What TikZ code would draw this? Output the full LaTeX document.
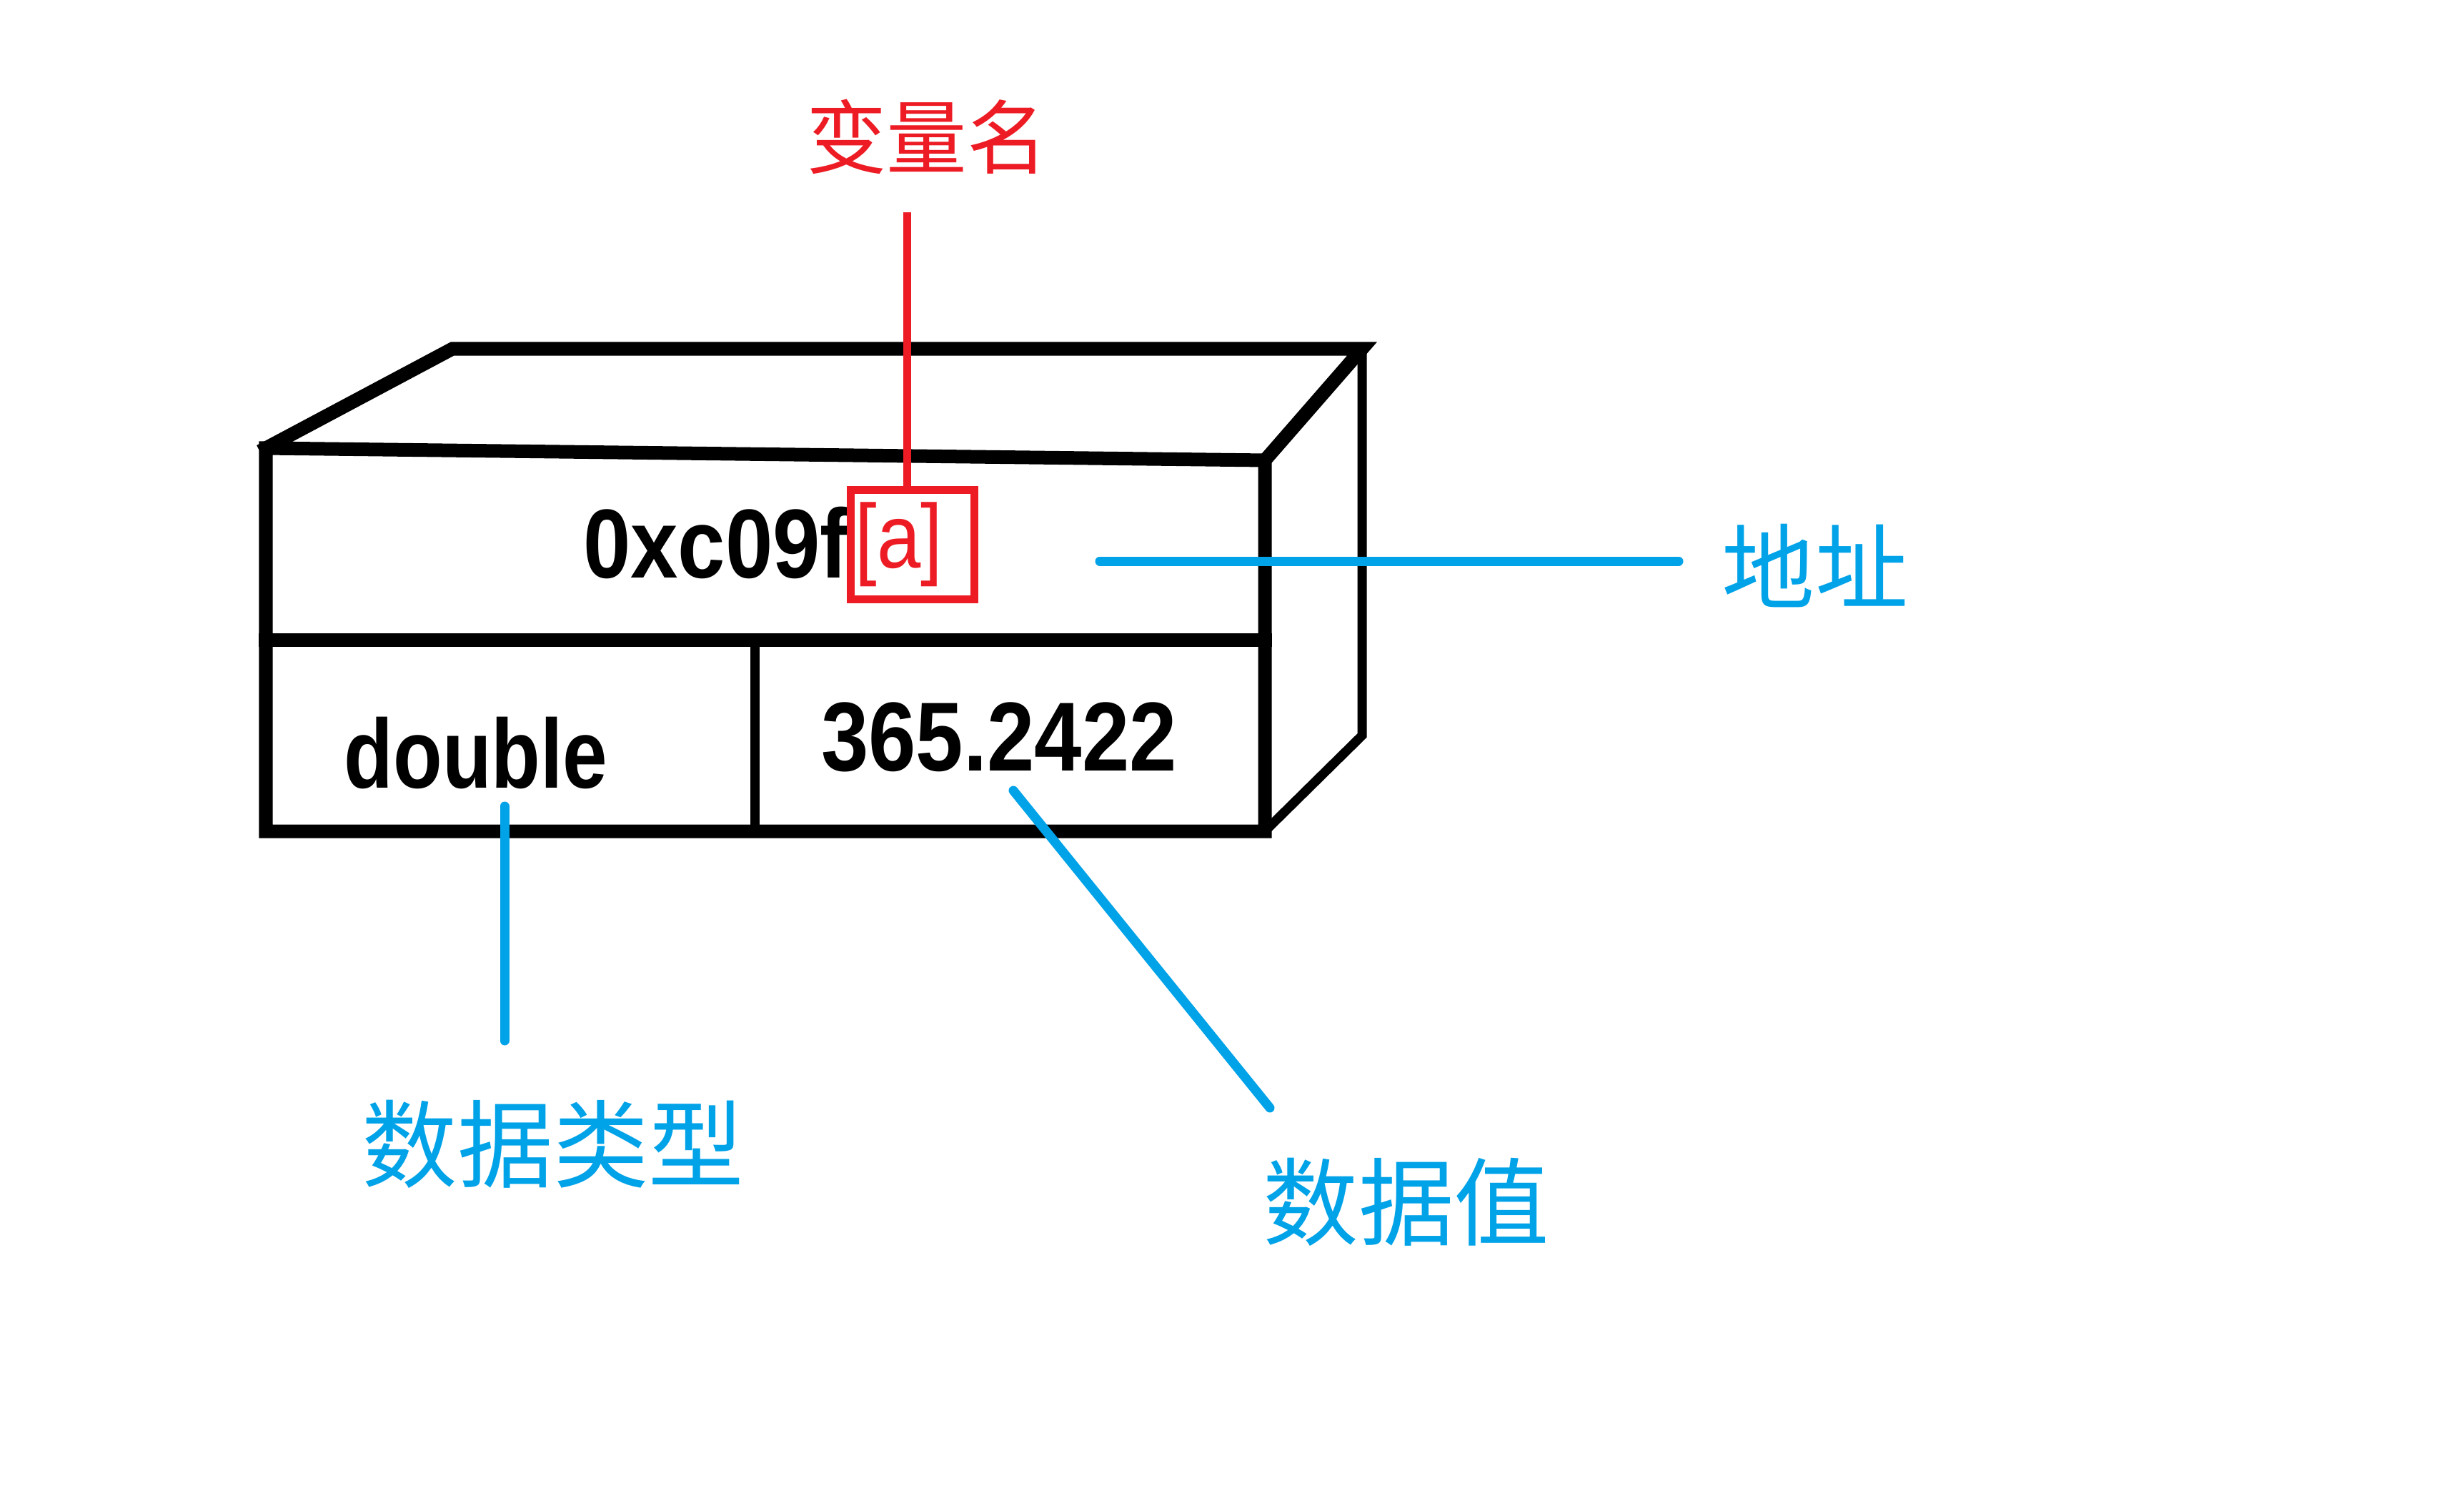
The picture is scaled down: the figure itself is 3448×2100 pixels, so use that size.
\documentclass[tikz,border=0pt]{standalone}
\usepackage{fontspec}
\newfontfamily\cjk{Noto Sans CJK SC}
\newfontfamily\numfont[FakeStretch=0.87]{Liberation Sans}
\newfontfamily\typefont[FakeStretch=0.82]{Liberation Sans}
\definecolor{pred}{HTML}{ED1C24}
\definecolor{pblue}{HTML}{00A2E8}
\tikzset{
  boxline/.style={line width=0.19cm, line join=miter, line cap=rect},
  thinbox/.style={line width=0.13cm, line cap=rect},
  redline/.style={draw=pred, line width=0.11cm},
  blueline/.style={draw=pblue, line width=0.13cm, line cap=round},
  celltext/.style={font=\numfont\bfseries\fontsize{39}{39}\selectfont, inner sep=0pt},
  redlabel/.style={text=pred, font=\cjk\fontsize{32}{32}\selectfont, inner sep=0pt},
  bluelabel/.style={text=pblue, font=\cjk\fontsize{38}{38}\selectfont, inner sep=0pt}
}
\begin{document}
\begin{tikzpicture}[x=0.01cm,y=-0.01cm]
\useasboundingbox[fill=white] (0,0) rectangle (3448,2100);
% box corners
\coordinate (ftl) at (372,627);
\coordinate (ftr) at (1770,644);
\coordinate (fbl) at (372,1163);
\coordinate (fbr) at (1770,1163);
\coordinate (btl) at (633,488);
\coordinate (btr) at (1906,488);
\coordinate (bbr) at (1906,1029);
\coordinate (ml) at (372,895);
\coordinate (mr) at (1770,895);
\coordinate (dt) at (1056,895);
\coordinate (db) at (1056,1163);
% box
\draw[boxline] (ftl) -- (ftr) -- (fbr) -- (fbl) -- cycle;
\draw[boxline] (ftl) -- (btl) -- (btr) -- (ftr);
\draw[thinbox] (btr) -- (bbr) -- (fbr);
\draw[boxline] (ml) -- (mr);
\draw[thinbox] (dt) -- (db);
% cell texts
\node[celltext, anchor=center] (addr) at (1002,759) {0xc09f};
\node[celltext, font=\typefont\bfseries\fontsize{39}{39}\selectfont, anchor=center] (type) at (666,1053) {double};
\node[celltext, anchor=center] (val) at (1398,1031) {365.2422};
% red box with variable name
\node[draw=pred, line width=0.11cm, minimum width=1.72cm, minimum height=1.52cm, inner sep=0pt] (rbox) at (1277,762) {};
\node[text=pred, font=\numfont\fontsize{36}{36}\selectfont, inner sep=0pt] (aname) at (1258,762) {[a]};
% labels
\node[redlabel] (varname) at (1297,191) {变量名};
\node[bluelabel, font=\cjk\fontsize{37}{37}\selectfont] (addrlabel) at (2540,792) {地址};
\node[bluelabel] (typelabel) at (774,1601) {数据类型};
\node[bluelabel] (vallabel) at (1968,1682) {数据值};
% connectors
\coordinate (r1) at (1269,297);
\draw[redline] (r1) -- (rbox.north -| r1);
\coordinate (b1) at (1539,785);
\coordinate (b2) at (2349,785);
\draw[blueline] (b1) -- (b2);
\coordinate (t1) at (706,1128);
\coordinate (t2) at (706,1456);
\draw[blueline] (t1) -- (t2);
\coordinate (v1) at (1418,1106);
\coordinate (v2) at (1777,1550);
\draw[blueline] (v1) -- (v2);
\end{tikzpicture}
\end{document}
